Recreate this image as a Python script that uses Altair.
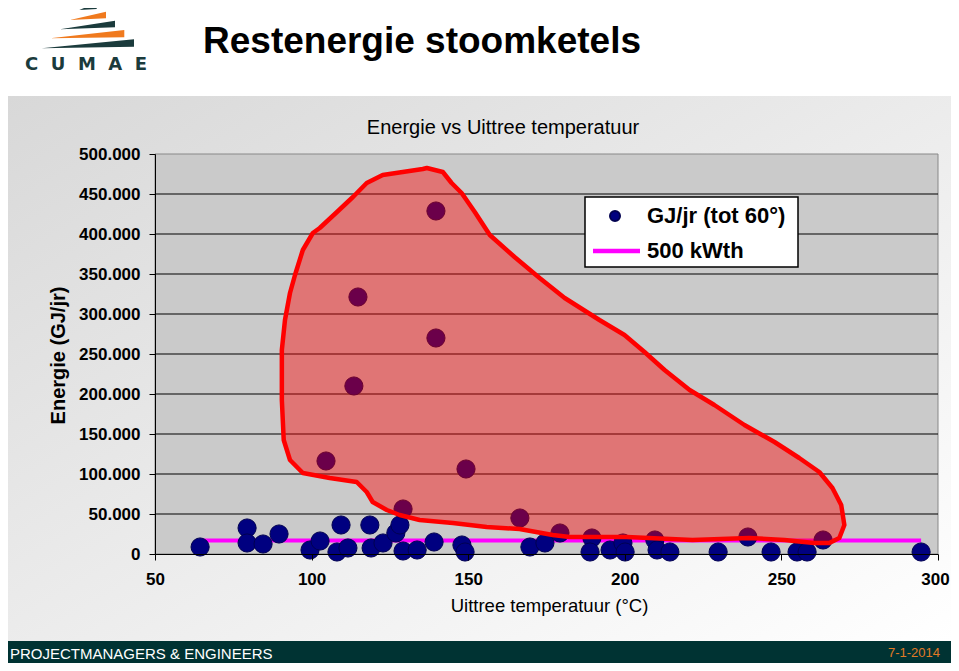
import altair as alt
import pandas as pd

# ---------------- data ----------------
temp = [64.4, 79.4, 79.4, 84.5, 89.6, 99.5, 102.7, 104.6, 109.4, 108.1, 111.6,
        114.8, 113.5, 118.6, 119.0, 122.8, 126.9, 128.2, 129.2, 129.2, 133.7,
        139.1, 139.7, 139.7, 148.0, 149.0, 149.3, 166.5, 169.7, 174.5, 179.3,
        189.5, 188.9, 195.3, 199.4, 200.1, 209.6, 210.3, 214.4, 229.8, 239.3,
        246.7, 255.0, 258.2, 263.3, 294.6]
energy = [8750, 32500, 13750, 12500, 25000, 5000, 16250, 116250, 36250, 2500, 7500,
          321250, 210000, 36250, 7500, 13750, 26250, 36250, 56250, 3750, 5000,
          15000, 428750, 270000, 11250, 2500, 106250, 45000, 8750, 13750, 26250,
          20000, 2500, 5000, 13750, 2500, 17500, 5000, 2500, 2500, 21250,
          2500, 2500, 2500, 17500, 2500]

kwth_temp = [64.4, 294.6]
kwth_energy = [17000, 17000]

poly_temp = [136.8, 141.9, 144.7, 147.9, 152.1, 156.9, 164.8, 172.8, 180.8, 191.9,
             199.9, 206.3, 212.7, 220.7, 228.6, 238.2, 247.8, 255.7, 262.1, 266.3,
             269.1, 270.1, 268.5, 265.3, 260.5, 251.0, 239.8, 221.6, 200.6, 182.4,
             177.0, 166.4, 155.9, 145.1, 134.5, 128.1, 124.0, 119.5, 117.6, 114.4,
             105.8, 97.2, 93.1, 91.1, 90.5, 90.5, 91.5, 93.1, 94.7, 97.2,
             100.4, 102.6, 108.1, 113.2, 117.6, 122.7, 129.1, 135.5, 136.8]
poly_energy = [482500, 477500, 463750, 451250, 427500, 398750, 371250, 345000, 320000, 292500,
               273750, 252500, 230000, 205000, 186250, 161250, 140000, 120000, 102500, 82500,
               61250, 36250, 20000, 13750, 13750, 17500, 20000, 17500, 21250, 21250,
               23750, 31250, 33750, 38750, 42500, 48750, 55000, 65000, 77500, 90000,
               95000, 101250, 117500, 142500, 192500, 255000, 292500, 326250, 348750, 380000,
               401250, 407500, 427500, 446250, 463750, 473750, 477500, 481250, 482500]

x_ticks = [50, 100, 150, 200, 250, 300]
y_ticks = [0, 50000, 100000, 150000, 200000, 250000, 300000, 350000, 400000, 450000, 500000]
plot_x = [50, 300]
plot_y = [0, 500000]

legend_labels = ["GJ/jr (tot 60°)", "500 kWth"]
slide_title = "Restenergie stoomketels"
chart_title = "Energie vs Uittree temperatuur"
x_title = "Uittree temperatuur (°C)"
y_title = "Energie (GJ/jr)"
footer_left = "PROJECTMANAGERS & ENGINEERS"
footer_right = "7-1-2014"
NB2 = "\u00a0\u00a0"
logo_text = NB2.join(["C", "U", "M", "A", "E"])

# ---------------- styling ----------------
FONT = "Liberation Sans"
W, H = 783, 400
NAVY = "#000080"
MAGENTA = "#ff00ff"
RED = "#ff0000"

xscale = alt.Scale(domain=[50, 300], nice=False, zero=False)
yscale = alt.Scale(domain=[0, 500000], nice=False)

x_axis = alt.Axis(values=x_ticks, grid=False, title=x_title, labelFont=FONT,
                  labelFontSize=17, labelFontWeight="bold", labelPadding=11,
                  labelOffset={"condition": {"test": "datum.value === 300", "value": -3},
                               "value": 0},
                  tickSize=6, titleFont=FONT, titleFontSize=18.5, titleFontWeight="normal",
                  titleX=394, titleY=51, titleBaseline="middle", titleAlign="center",
                  labelFlush=False, zindex=5, domainColor="black", tickColor="black",
                  labelColor="black", titleColor="black")
y_axis = alt.Axis(values=y_ticks, grid=False, title=y_title, labelFont=FONT,
                  labelFontSize=17, labelFontWeight="bold", labelPadding=9, tickSize=6,
                  labelExpr="replace(format(datum.value, ','), ',', '.')",
                  titleFont=FONT, titleFontSize=20, titleFontWeight="bold",
                  titleX=-97, titleY=201, titleBaseline="middle", titleAlign="center",
                  titleAngle=270, labelFlush=False, zindex=5, domainColor="black",
                  tickColor="black", labelColor="black", titleColor="black")


def X(field="temp"):
    return alt.X(f"{field}:Q", scale=xscale, axis=x_axis)


def Y(field="energy"):
    return alt.Y(f"{field}:Q", scale=yscale, axis=y_axis)


one = pd.DataFrame({"k": [0]})

# page background gradient
bg = alt.Chart(one).mark_rect(
    fill=alt.LinearGradient(gradient="linear",
                            stops=[alt.GradientStop(color="#d8d8d8", offset=0),
                                   alt.GradientStop(color="#ffffff", offset=1)],
                            x1=0, y1=0, x2=1, y2=1)
).encode(x=alt.value(-147), x2=alt.value(796), y=alt.value(-58), y2=alt.value(487))

# plot area
plot_df = pd.DataFrame({"temp": [plot_x[0]], "temp2": [plot_x[1]],
                        "energy": [plot_y[0]], "energy2": [plot_y[1]]})
plot_bg = alt.Chart(plot_df).mark_rect(fill="#cacaca", stroke="#888888", strokeWidth=1).encode(
    x=X(), x2="temp2:Q", y=Y(), y2="energy2:Q")

grid = alt.Chart(pd.DataFrame({"energy": y_ticks[1:-1]})).mark_rule(
    color="#000000", strokeWidth=1).encode(y=Y())

kwth = alt.Chart(pd.DataFrame({"temp": kwth_temp, "energy": kwth_energy})).mark_line(
    color=MAGENTA, strokeWidth=4).encode(x=X(), y=Y())

pts = alt.Chart(pd.DataFrame({"temp": temp, "energy": energy})).mark_point(
    filled=True, fill=NAVY, stroke="#000050", strokeWidth=1, size=330, opacity=1
).encode(x=X(), y=Y())

poly = alt.Chart(pd.DataFrame({"temp": poly_temp, "energy": poly_energy,
                               "i": list(range(len(poly_temp)))})).mark_line(
    stroke=RED, strokeWidth=4.5, fill=RED, fillOpacity=0.42, strokeJoin="round",
    strokeCap="round").encode(x=X(), y=Y(), order="i:Q")

# legend
leg_box = alt.Chart(one).mark_rect(fill="white", stroke="black", strokeWidth=1.5).encode(
    x=alt.value(430), x2=alt.value(643), y=alt.value(43), y2=alt.value(113))
leg_pt = alt.Chart(one).mark_point(filled=True, fill=NAVY, stroke="#000050", size=100,
                                   opacity=1).encode(x=alt.value(460), y=alt.value(62))
leg_line = alt.Chart(one).mark_rule(color=MAGENTA, strokeWidth=4.5).encode(
    x=alt.value(438), x2=alt.value(485), y=alt.value(97))
leg_t1 = alt.Chart(one).mark_text(align="left", baseline="middle", font=FONT, fontSize=22,
                                  fontWeight="bold", color="black").encode(
    x=alt.value(492), y=alt.value(62), text=alt.value(legend_labels[0]))
leg_t2 = alt.Chart(one).mark_text(align="left", baseline="middle", font=FONT, fontSize=22,
                                  fontWeight="bold", color="black").encode(
    x=alt.value(492), y=alt.value(97), text=alt.value(legend_labels[1]))

# titles
t_slide = alt.Chart(one).mark_text(align="left", baseline="alphabetic", font=FONT,
                                   fontSize=37, fontWeight="bold", color="black").encode(
    x=alt.value(48), y=alt.value(-101), text=alt.value(slide_title))
t_chart = alt.Chart(one).mark_text(align="center", baseline="middle", font=FONT,
                                   fontSize=20, color="black").encode(
    x=alt.value(348), y=alt.value(-26), text=alt.value(chart_title))

# logo
dark_path = ("M -10.7 -15 L 6.7 -22.3 L 6.7 -16 Z "
             "M -30 4.3 L 25 -4.3 L 25 2.3 Z "
             "M -48.3 23.3 L 44 14.3 L 44 21.7 Z")
orange_path = ("M -20 -5 L 16 -13.3 L 16 -6.7 Z "
               "M -40 13.3 L 34.3 5 L 34.3 12.3 Z")
logo_dark = alt.Chart(one).mark_point(shape=dark_path, filled=True, fill="#1b3b3c",
                                      strokeWidth=0, size=4, opacity=1).encode(
    x=alt.value(-65), y=alt.value(-129))
logo_orange = alt.Chart(one).mark_point(shape=orange_path, filled=True, fill="#f07a1e",
                                        strokeWidth=0, size=4, opacity=1).encode(
    x=alt.value(-65), y=alt.value(-129))
logo_txt = alt.Chart(one).mark_text(align="left", baseline="middle", font="DejaVu Sans",
                                    fontSize=18, fontWeight="bold", color="#1b3b3c").encode(
    x=alt.value(-130), y=alt.value(-89), text=alt.value(logo_text))

# footer
foot = alt.Chart(one).mark_rect(fill="#003333").encode(
    x=alt.value(-147), x2=alt.value(796), y=alt.value(487), y2=alt.value(509))
foot_l = alt.Chart(one).mark_text(align="left", baseline="middle", font=FONT, fontSize=15,
                                  color="white").encode(
    x=alt.value(-145), y=alt.value(500), text=alt.value(footer_left))
foot_r = alt.Chart(one).mark_text(align="right", baseline="middle", font=FONT, fontSize=13,
                                  color="#e07a25").encode(
    x=alt.value(785), y=alt.value(499), text=alt.value(footer_right))

chart = alt.layer(
    bg, plot_bg, grid, kwth, pts, poly,
    leg_box, leg_pt, leg_line, leg_t1, leg_t2,
    t_slide, t_chart, logo_dark, logo_orange, logo_txt,
    foot, foot_l, foot_r
).properties(
    width=W, height=H,
    autosize=alt.AutoSizeParams(type="none"),
    padding={"left": 147, "top": 146, "right": 13, "bottom": 109},
    background="white"
).configure_view(stroke=None)

chart.save("out.html", embed_options={"renderer": "svg", "actions": False})
